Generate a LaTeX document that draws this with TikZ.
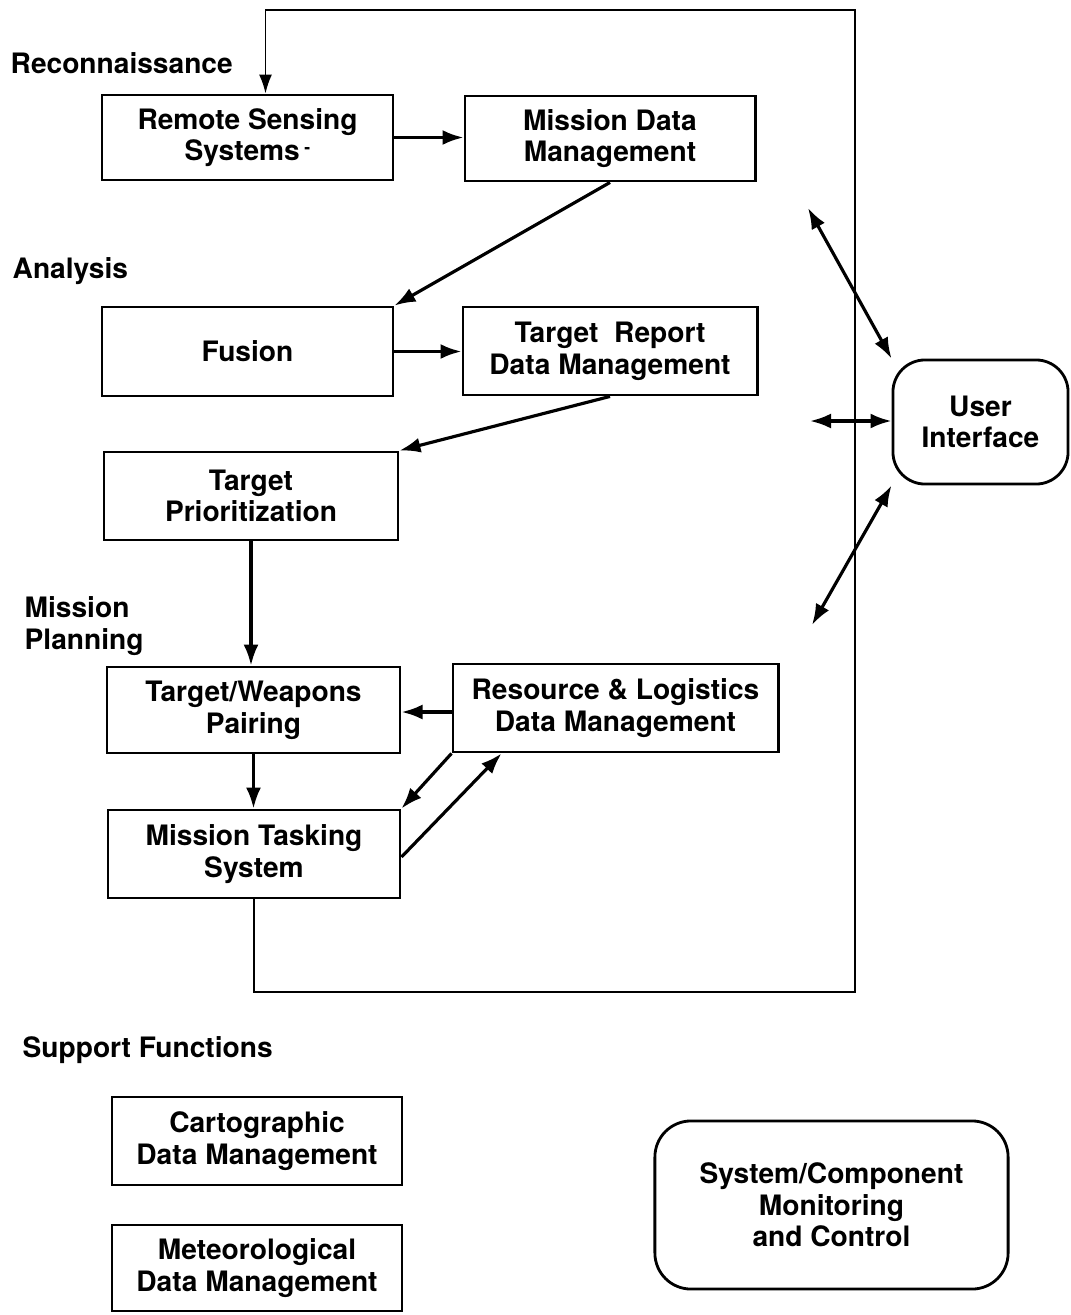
\documentclass[tikz,border=0pt]{standalone}
\usepackage{fontspec}
\setmainfont{TeX Gyre Heros}
\usetikzlibrary{arrows.meta}

\tikzset{
  box/.style={draw, line width=0.8pt, align=center, inner sep=0pt},
  rbox/.style={box, rounded corners=0.32cm},
  lab/.style={anchor=west, inner sep=0pt, align=left},
  conn/.style={line width=0.9pt, -{Latex[length=0.21cm,width=0.15cm]}},
  dconn/.style={line width=0.9pt, {Latex[length=0.21cm,width=0.15cm]}-{Latex[length=0.21cm,width=0.15cm]}},
  loopline/.style={line width=0.55pt, -{Latex[length=0.19cm,width=0.13cm]}}
}

\begin{document}
\begin{tikzpicture}[x=0.01cm, y=-0.01cm, font=\fontsize{8}{9}\selectfont\bfseries]
\useasboundingbox (0,0) rectangle (1071,1315);

%% section labels
\node[lab] (lrec) at (10,63) {Reconnaissance};
\node[lab] (lana) at (12,271) {Analysis};
\node[lab] (lmp) at (24,626) {Mission\\Planning};
\node[lab] (lsup) at (22,1050) {Support Functions};

%% reconnaissance
\node[box, minimum width=2.91cm, minimum height=0.85cm] (rss) at (247.5,137.5) {Remote Sensing\\Systems\,\raisebox{0.5ex}{\tiny-}};
\node[box, minimum width=2.90cm, minimum height=0.85cm] (mdm) at (610,138.5) {Mission Data\\Management};

%% analysis
\node[box, minimum width=2.91cm, minimum height=0.89cm] (fus) at (247.5,351.5) {Fusion};
\node[box, minimum width=2.94cm, minimum height=0.88cm] (trdm) at (610,351) {Target\ \ Report\\Data Management};
\node[box, minimum width=2.94cm, minimum height=0.88cm] (tp) at (251,496) {Target\\Prioritization};

%% mission planning
\node[box, minimum width=2.93cm, minimum height=0.86cm] (twp) at (253.5,710) {Target/Weapons\\Pairing};
\node[box, minimum width=3.25cm, minimum height=0.88cm] (rl) at (615.5,708) {Resource \& Logistics\\Data Management};
\node[box, minimum width=2.92cm, minimum height=0.88cm] (mts) at (254,854) {Mission Tasking\\System};

%% user interface
\node[rbox, minimum width=1.75cm, minimum height=1.24cm] (ui) at (980.5,422) {User\\Interface};

%% support functions
\node[box, minimum width=2.90cm, minimum height=0.88cm] (cdm) at (257,1141) {Cartographic\\Data Management};
\node[box, minimum width=2.90cm, minimum height=0.86cm] (met) at (257,1268) {Meteorological\\Data Management};
\node[rbox, minimum width=3.53cm, minimum height=1.68cm, rounded corners=0.36cm] (scm) at (831.5,1205) {System/Component\\Monitoring\\and Control};

%% connectors
\draw[conn] (rss.east) -- (rss.east -| mdm.west);
\draw[conn] (mdm.south) -- (fus.north east);
\draw[conn] (fus.east) -- (fus.east -| trdm.west);
\draw[conn] (trdm.south) -- (tp.north east);
\draw[conn] (tp.south) -- (tp.south |- twp.north);
\draw[conn] ([yshift=-0.04cm]rl.west) -- ([yshift=-0.04cm]rl.west -| twp.east);
\draw[conn] (twp.south) -- (twp.south |- mts.north);
\draw[conn] (rl.south west) -- (mts.north east);
\draw[conn] ([yshift=-0.03cm]mts.east) -- ([xshift=0.5cm]rl.south west);

%% feedback loop
\draw[loopline] (mts.south) |- (855,992) -- (855,10) -| ([xshift=0.18cm]rss.north);

%% user interface links
\coordinate (ua) at (808,208);
\coordinate (ub) at (810,421);
\coordinate (uc) at (812,625);
\draw[dconn] (ua) -- (ui.north west);
\draw[dconn] (ub) -- (ub -| ui.west);
\draw[dconn] (uc) -- (ui.south west);
\end{tikzpicture}
\end{document}
